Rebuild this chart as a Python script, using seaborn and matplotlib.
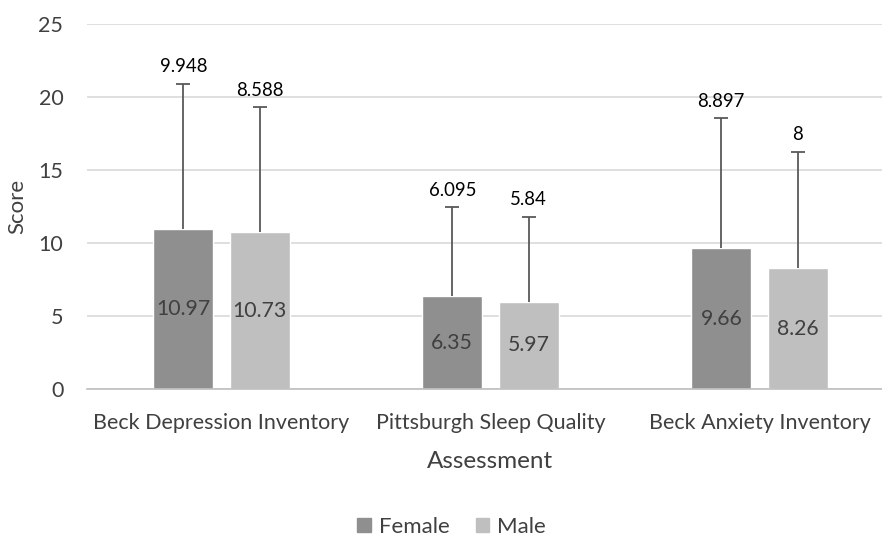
import numpy as np
import pandas as pd
import matplotlib
matplotlib.use("Agg")
import matplotlib.pyplot as plt
import seaborn as sns

assessments = ["Beck Depression Inventory", "Pittsburgh Sleep Quality", "Beck Anxiety Inventory"]
genders = ["Female", "Male"]
female_mean = [10.97, 6.35, 9.66]
male_mean = [10.73, 5.97, 8.26]
female_sd = [9.948, 6.095, 8.897]
male_sd = [8.588, 5.84, 8]
y_ticks = [0, 5, 10, 15, 20, 25]

df = pd.DataFrame({
    "Assessment": assessments * 2,
    "Gender": ["Female"] * 3 + ["Male"] * 3,
    "Score": female_mean + male_mean,
    "SD": female_sd + male_sd,
})

sns.set_style("white")
plt.rcParams["font.family"] = ["Lato", "DejaVu Sans"]
text_gray = "#404040"

fig = plt.figure(figsize=(8.82, 5.38), dpi=100)
# the plot area runs a little past the right edge of the image
ax = fig.add_axes([0.0986, 0.277, 0.915, 0.678])

sns.barplot(data=df, x="Assessment", y="Score", hue="Gender", order=assessments,
            hue_order=genders, palette=["#8f8f8f", "#bfbfbf"], width=0.568, gap=0.216,
            errorbar=None, ax=ax, legend=False)

# upward-only SD error bars and labels
for cont, g in zip(ax.containers, genders):
    sub = df[df["Gender"] == g].set_index("Assessment").loc[assessments]
    xs = [p.get_x() + p.get_width() / 2 for p in cont]
    eb = ax.errorbar(xs, sub["Score"], yerr=[np.zeros(len(xs)), sub["SD"]], fmt="none",
                     ecolor="#595959", elinewidth=1.3, capsize=5, capthick=1.3)
    eb[1][0].set_visible(False)  # no cap at the bar top
    for x, m, s in zip(xs, sub["Score"], sub["SD"]):
        ax.annotate(f"{s:g}", (x, m + s), xytext=(0, 6), textcoords="offset points",
                    ha="center", va="bottom", fontsize=13.4, color="black")
    ax.bar_label(cont, labels=[f"{v:.2f}" for v in sub["Score"]], label_type="center",
                 fontsize=15.3, color=text_gray)

ax.set_ylim(0, 25)
ax.set_xlim(-0.5, 2.5)
ax.set_yticks(y_ticks)
ax.yaxis.grid(True, color="#d9d9d9", linewidth=1.2)
ax.set_axisbelow(True)
for sp in ["top", "right", "left"]:
    ax.spines[sp].set_visible(False)
ax.spines["bottom"].set_color("#bfbfbf")
ax.spines["bottom"].set_linewidth(1.2)

ax.set_xticks([0, 1, 2])
ax.set_xticklabels(assessments)
ax.set_xticks([-0.5, 0.5, 1.5, 2.5], minor=True)
ax.tick_params(axis="x", which="major", length=0, pad=17, labelsize=15.5, labelcolor=text_gray)
ax.tick_params(axis="x", which="minor", length=7, width=1.2, color="#bfbfbf", direction="out")
ax.tick_params(axis="y", length=0, pad=17, labelsize=15.5, labelcolor=text_gray)

ax.set_xlabel("Assessment", fontsize=17.5, color=text_gray)
ax.xaxis.set_label_coords(0.5, -0.2)
ax.xaxis.label.set_va("center")
ax.set_ylabel("Score", fontsize=16, color=text_gray, labelpad=8)

handles = [plt.Rectangle((0, 0), 1, 1, color=c) for c in ["#8f8f8f", "#bfbfbf"]]
fig.legend(handles, genders, loc="center", bbox_to_anchor=(0.512, 0.02), ncol=2,
           frameon=False, handlelength=0.6, handleheight=0.6, handletextpad=0.35,
           columnspacing=1.2, prop={"size": 16}, labelcolor=text_gray)

fig.savefig("out.png", dpi=100)
